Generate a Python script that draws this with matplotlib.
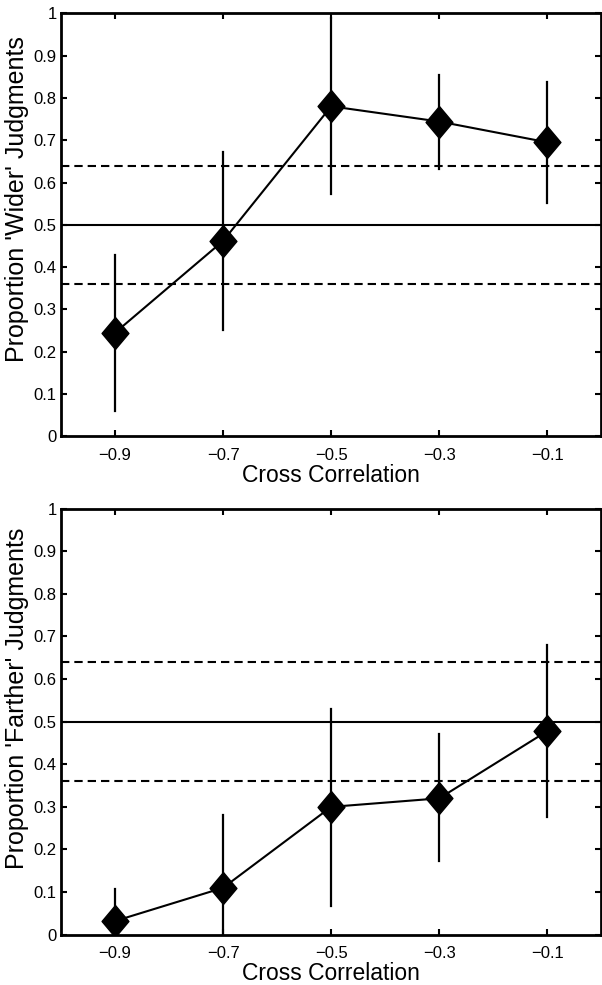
import matplotlib
matplotlib.use('Agg')
import matplotlib.pyplot as plt
from matplotlib.path import Path
from matplotlib.ticker import FormatStrFormatter

plt.rcParams['font.family'] = ['Liberation Sans', 'DejaVu Sans']
plt.rcParams['lines.scale_dashes'] = False

# cross correlation values on the x axis
corr = [-0.9, -0.7, -0.5, -0.3, -0.1]

# proportion of 'wider' judgments with interval ends
wider = [0.245, 0.462, 0.780, 0.744, 0.695]
wider_lo = [0.061, 0.252, 0.573, 0.632, 0.551]
wider_hi = [0.429, 0.673, 0.989, 0.855, 0.837]

# proportion of 'farther' judgments with interval ends
farther = [0.032, 0.110, 0.300, 0.320, 0.478]
farther_lo = [-0.04, -0.06, 0.068, 0.173, 0.276]
farther_hi = [0.107, 0.281, 0.530, 0.471, 0.680]

chance = 0.5
bounds = [0.36, 0.64]

xticks = [-0.9, -0.7, -0.5, -0.3, -0.1]
yticks = [0, 0.1, 0.2, 0.3, 0.4, 0.5, 0.6, 0.7, 0.8, 0.9, 1]

# slightly tall diamond, like the matlab one
diamond = Path([(0, 1), (0.84, 0), (0, -1), (-0.84, 0), (0, 1)],
               [Path.MOVETO, Path.LINETO, Path.LINETO, Path.LINETO, Path.CLOSEPOLY])

fig = plt.figure(figsize=(6.02, 9.85), dpi=100)
ax1 = fig.add_axes([0.1013, 0.5569, 0.8977, 0.4297])
ax2 = fig.add_axes([0.1013, 0.0511, 0.8977, 0.4325])


def draw_panel(ax, vals, lo, hi, ylabel, ylab_pos):
    ax.axhline(chance, color='black', lw=1.5, zorder=1)
    for b in bounds:
        ax.axhline(b, color='black', lw=1.5, ls=(0, (6, 3.6)), zorder=1)
    for xv, l, h in zip(corr, lo, hi):
        ax.plot([xv, xv], [l, h], color='black', lw=1.6, zorder=2)
    ax.plot(corr, vals, color='black', lw=1.5, marker=diamond,
            markersize=23, markerfacecolor='black', markeredgecolor='black',
            zorder=3)

    ax.set_xlim(-1, 0)
    ax.set_ylim(0, 1)
    ax.set_xticks(xticks)
    ax.set_yticks(yticks)
    ax.yaxis.set_major_formatter(FormatStrFormatter('%g'))
    ax.tick_params(direction='in', length=4, width=1.5, labelsize=12,
                   top=True, right=True)
    ax.tick_params(axis='x', pad=8)
    ax.tick_params(axis='y', pad=3)
    for s in ax.spines.values():
        s.set_linewidth(2)

    ax.set_xlabel('Cross Correlation', fontsize=16.5)
    ax.xaxis.set_label_coords(0.5, -0.065)
    ax.set_ylabel(ylabel, fontsize=18)
    ax.yaxis.set_label_coords(-0.06, ylab_pos)


draw_panel(ax1, wider, wider_lo, wider_hi, "Proportion 'Wider' Judgments", 0.56)
draw_panel(ax2, farther, farther_lo, farther_hi, "Proportion 'Farther' Judgments", 0.555)

plt.savefig('out.png', dpi=100)
